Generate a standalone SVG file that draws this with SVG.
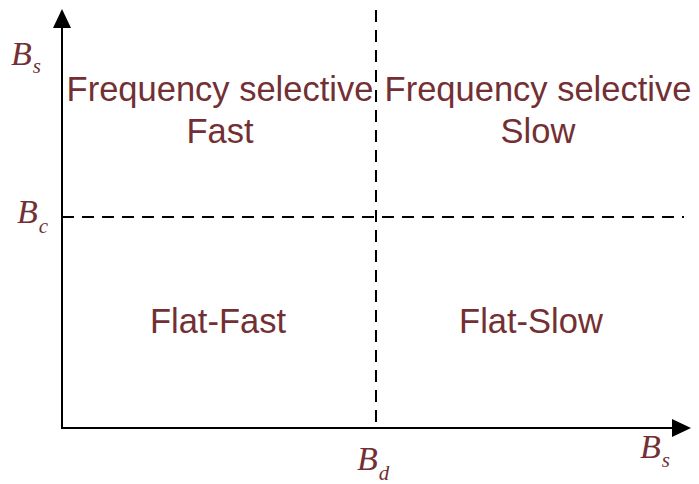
<svg xmlns="http://www.w3.org/2000/svg" width="699" height="484" viewBox="0 0 699 484">
<style>
.lbl{font-family:"Liberation Sans",Arial,sans-serif;font-size:34.5px;fill:#733034;text-anchor:middle}
.sym{font-family:"Liberation Serif","Times New Roman",serif;font-style:italic;font-size:34px;fill:#733034}
.sub{font-size:21px}
.axis{stroke:#000;stroke-width:2;fill:none}
.dash{stroke:#000;stroke-width:2;fill:none;stroke-dasharray:12,8}
</style>
<g id="connectors">
<line class="dash" x1="376" y1="10" x2="376" y2="428"/>
<line class="dash" x1="62" y1="217" x2="684" y2="217"/>
<line class="axis" x1="62" y1="429" x2="62" y2="28"/>
<path d="M53,28 L62,9 L71,28 Z" fill="#000"/>
<line class="axis" x1="61" y1="428" x2="672" y2="428"/>
<path d="M672,419 L691,428 L672,437 Z" fill="#000"/>
</g>
<g id="fs-fast"><text class="lbl" x="220" y="101">Frequency selective</text><text class="lbl" x="220" y="143">Fast</text></g>
<g id="fs-slow"><text class="lbl" x="538" y="101">Frequency selective</text><text class="lbl" x="538" y="143">Slow</text></g>
<g id="flat-fast"><text class="lbl" x="218" y="333">Flat-Fast</text></g>
<g id="flat-slow"><text class="lbl" x="531" y="333">Flat-Slow</text></g>
<g id="label-bs-y"><text class="sym" x="11" y="65">B<tspan class="sub" dx="1" dy="8">s</tspan></text></g>
<g id="label-bc"><text class="sym" x="17" y="223">B<tspan class="sub" dx="1" dy="10">c</tspan></text></g>
<g id="label-bd"><text class="sym" x="357" y="470">B<tspan class="sub" dx="1" dy="10">d</tspan></text></g>
<g id="label-bs-x"><text class="sym" x="640" y="458">B<tspan class="sub" dx="1" dy="9">s</tspan></text></g>
</svg>
